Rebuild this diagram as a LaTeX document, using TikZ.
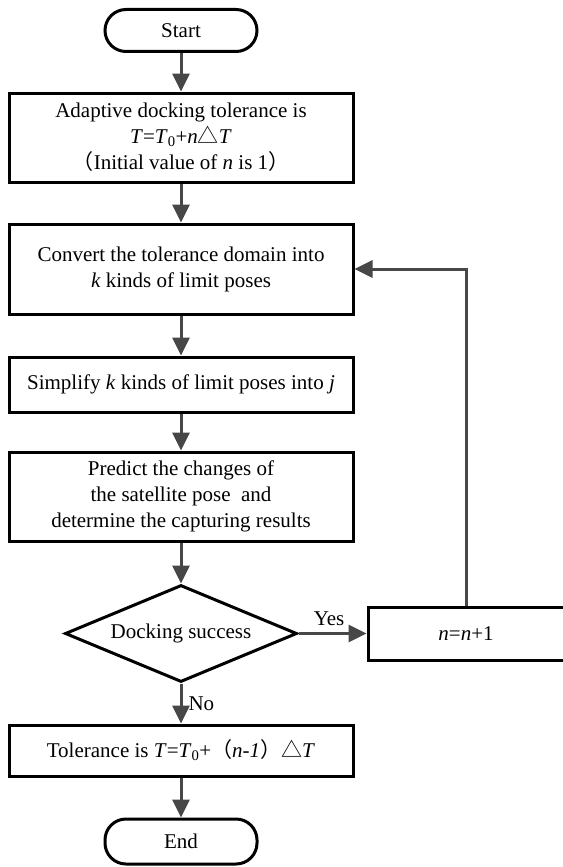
\documentclass[tikz,border=0pt]{standalone}
\usepackage{fontspec}
\setmainfont{Liberation Serif}
\newfontfamily\cjk{Noto Sans CJK SC}
\usetikzlibrary{arrows.meta,shapes.geometric}
\newcommand{\tri}{{\cjk △}}
\newcommand{\lp}{{\cjk （}}
\newcommand{\rp}{{\cjk ）}}
\begin{document}
\begin{tikzpicture}[x=1pt,y=-1pt,
  every node/.style={font=\fontsize{21}{26}\selectfont},
  procbox/.style={draw=black,line width=3pt,rectangle,minimum width=344pt,inner sep=0pt,align=center},
  termbox/.style={draw=black,line width=3pt,rectangle,rounded corners=21pt,minimum width=152pt,minimum height=42pt,inner sep=0pt},
  decbox/.style={draw=black,line width=3pt,diamond,aspect=2.39,minimum width=232pt,minimum height=97pt,inner sep=0pt},
  flow/.style={draw=black!72,line width=3pt,-{Triangle[length=18pt,width=17pt]}},
  lbl/.style={inner sep=0pt}
]
\useasboundingbox (0,0) rectangle (562,867);
\node[termbox] (start) at (181,30.5) {Start};
\node[procbox,minimum height=89pt] (b1) at (181,137.5) {Adaptive docking tolerance is\\ \textit{T}=\textit{T}\textsubscript{0}+\textit{n}\tri\textit{T}\\ \lp Initial value of \textit{n} is 1\rp};
\node[procbox,minimum height=90pt] (b2) at (181,269) {Convert the tolerance domain into\\ \textit{k} kinds of limit poses};
\node[procbox,minimum height=55pt] (b3) at (181,384.5) {Simplify \textit{k} kinds of limit poses into \textit{j}};
\node[procbox,minimum height=89pt] (b4) at (181,496.5) {Predict the changes of\\ the satellite pose\ \ and\\ determine the capturing results};
\node[decbox] (d) at (181,633.5) {Docking success};
\node[draw=black,line width=3pt,rectangle,minimum width=196pt,minimum height=53pt,inner sep=0pt] (nb) at (466,633.5) {\textit{n}=\textit{n}+1};
\node[procbox,minimum height=51pt] (b5) at (181,750.5) {Tolerance is \textit{T}=\textit{T}\textsubscript{0}+\lp\textit{n-1}\rp\tri\textit{T}};
\node[termbox,minimum height=45pt] (end) at (181,841.5) {End};
\draw[flow] (start) -- (b1);
\draw[flow] (b1) -- (b2);
\draw[flow] (b2) -- (b3);
\draw[flow] (b3) -- (b4);
\draw[flow] (b4) -- (d);
\draw[flow] (d.east) -- node[lbl,above=6pt,pos=0.45] (yes) {Yes} (nb.west);
\draw[flow] (d.south) -- node[lbl,right=6pt,pos=0.5] (no) {No} (b5.north);
\draw[flow] (b5) -- (end);
\draw[flow] (nb.north) |- (b2.east);
\end{tikzpicture}
\end{document}
